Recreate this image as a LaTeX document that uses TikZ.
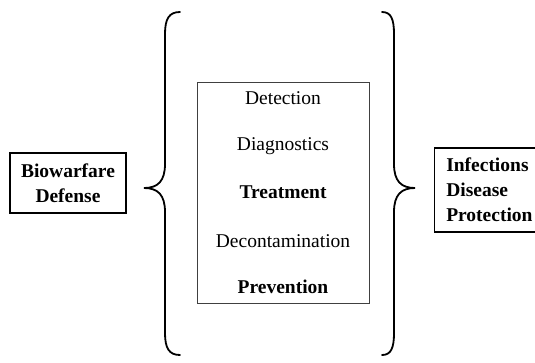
\documentclass[tikz,border=0pt]{standalone}
\usepackage{fontspec}
\setmainfont{Liberation Serif}

\begin{document}
\begin{tikzpicture}[
    x=1pt, y=-1pt,
    outerbox/.style={rectangle, draw, line width=1.8pt, inner sep=0pt, align=center},
    listbox/.style={rectangle, draw, line width=0.8pt, draw=black!75, minimum width=172pt, minimum height=221pt},
    item/.style={inner sep=0pt, font=\fontsize{19.5}{24}\selectfont},
    brace/.style={line width=1.8pt, line cap=round}
]
    \useasboundingbox (0,0) rectangle (535,362);

    % Left box
    \node[outerbox, minimum width=116pt, minimum height=60pt, font=\fontsize{19.5}{25}\selectfont\bfseries] (bio) at (68,183) {Biowarfare\\Defense};

    % Middle list box
    \node[listbox] (list) at (283,192.5) {};
    \node[item] (det) at (283,98) {Detection};
    \node[item] (diag) at (283,146) {Diagnostics};
    \node[item, font=\fontsize{19.5}{24}\selectfont\bfseries] (treat) at (283,192) {Treatment};
    \node[item] (decon) at (283,241) {Decontamination};
    \node[item, font=\fontsize{19.5}{24}\selectfont\bfseries] (prev) at (283,287) {Prevention};

    % Right box
    \node[outerbox, minimum width=101pt, minimum height=84pt, align=left, anchor=west, font=\fontsize{19.5}{25}\selectfont\bfseries] (inf) at (433.5,190) {\hspace*{9pt}Infections\hspace*{0pt}\\\hspace*{9pt}Disease\\\hspace*{9pt}Protection};

    % Left brace
    \draw[brace] (180,12) .. controls (169,12) and (165,19) .. (165,34) -- (165,164)
        .. controls (165,181) and (158,188) .. (144,188)
        .. controls (158,188) and (165,195) .. (165,212) -- (165,333)
        .. controls (165,348) and (169,355) .. (180,355);

    % Right brace
    \draw[brace] (382,12) .. controls (391,12) and (394,19) .. (394,34) -- (394,164)
        .. controls (394,181) and (401,188) .. (415,188)
        .. controls (401,188) and (394,195) .. (394,212) -- (394,333)
        .. controls (394,348) and (391,355) .. (382,355);

\end{tikzpicture}
\end{document}
